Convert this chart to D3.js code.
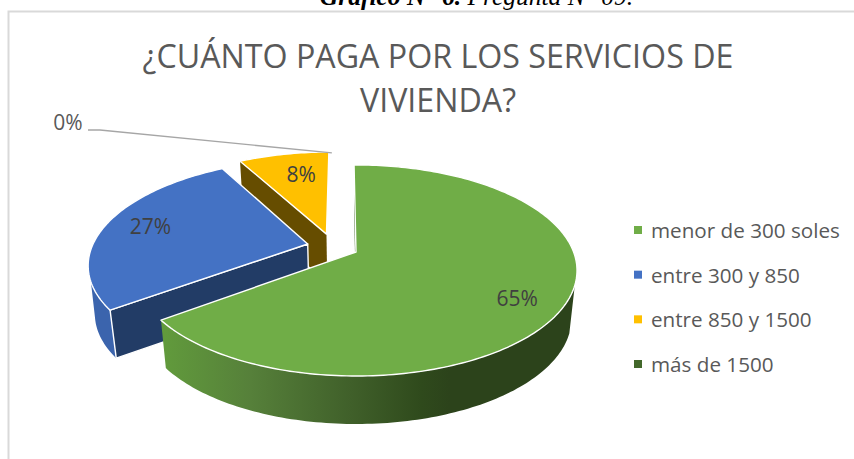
<!DOCTYPE html>
<html><head><meta charset="utf-8">
<script src="https://cdn.jsdelivr.net/npm/d3@7"></script>
<style>html,body{margin:0;padding:0;background:#fff;overflow:hidden}svg{display:block}</style>
</head><body><svg id="c" width="854" height="459"></svg>
<script>
const categories = ["menor de 300 soles","entre 300 y 850","entre 850 y 1500","más de 1500"];
const values = [65,27,8,0];
const labels = ["65%","27%","8%","0%"];
const colors = ["#70ad47","#4472c4","#ffc000","#43682b"];
const titleLines = ["¿CUÁNTO PAGA POR LOS SERVICIOS DE","VIVIENDA?"];

(function(){
const svg = d3.select("#c");
const W=854,H=459;
const C={x:356,y:252}, P=0.175, A=102.3, B=217.6, DEPTH=48, SHR=0.975;
function proj(u,v,low){
  const d=1-P*v; let x=B*u/d, y=A*v/d;
  if(low){x*=SHR; y=y+DEPTH;}
  return [C.x+x,C.y+y];
}
const explode=[[0,0],[-0.225,-0.079],[-0.14,-0.18],[0,0]];
const pieStart=-0.6*Math.PI/180;
const arcs=d3.pie().sort(null).startAngle(pieStart).endAngle(pieStart+2*Math.PI)(values);
const line=d3.line();
function rim(i,a0,a1,low){
  const n=Math.max(2,Math.ceil(Math.abs(a1-a0)/0.02)), e=explode[i];
  return d3.range(n+1).map(k=>{const a=a0+(a1-a0)*k/n;return proj(e[0]+Math.sin(a),e[1]-Math.cos(a),low);});
}
const apex=(i,low)=>proj(explode[i][0],explode[i][1],low);

const defs=svg.append("defs");
const g1=defs.append("linearGradient").attr("id","gw").attr("gradientUnits","userSpaceOnUse")
  .attr("x1",165).attr("x2",450).attr("y1",0).attr("y2",0);
[[0,"#619a3c"],[0.3,"#56803a"],[0.65,"#40602a"],[0.9,"#2f4a1c"],[1,"#2c431b"]].forEach(s=>g1.append("stop").attr("offset",s[0]).attr("stop-color",s[1]));

svg.append("path").attr("d",line([[8.5,H+5],[8.5,11.5],[W+5,11.5]])).attr("fill","none").attr("stroke","#d9d9d9").attr("stroke-width",2);

const cap=svg.append("text").attr("x",476.5).attr("y",5).attr("text-anchor","middle")
  .attr("font-family","Liberation Serif").attr("font-size",25.5).attr("font-style","italic").attr("fill","#000");
cap.append("tspan").attr("font-weight","bold").text("Gráfico N° 6. ");
cap.append("tspan").text("Pregunta N° 09.");

svg.selectAll("text.t").data(titleLines).join("text").attr("class","t")
  .attr("x",438).attr("y",(d,i)=>68+i*44).attr("text-anchor","middle")
  .attr("font-family","Open Sans").attr("font-size",32.2).attr("fill","#595959").text(d=>d);

function face(pts,fill,stroke){
  const p=svg.append("path").attr("d",line(pts)+"Z").attr("fill",fill);
  if(stroke){p.attr("stroke","#fff").attr("stroke-width",1.4).attr("stroke-linejoin","round");}
  return p;
}
function topFace(i){
  const a=arcs[i];
  return [apex(i)].concat(rim(i,a.startAngle,a.endAngle));
}
function radialWall(i,ang){
  const ap=apex(i),apl=apex(i,true);
  const o=rim(i,ang,ang)[0],ol=rim(i,ang,ang,true)[0];
  return [ap,o,ol,apl];
}
function outerWall(i,a0,a1,a1low){
  return rim(i,a0,a1).concat(rim(i,a0,a1low===undefined?a1:a1low,true).reverse());
}
const deg=Math.PI/180;
face(radialWall(2,arcs[2].startAngle),"#664d00");
face(topFace(2),colors[2],true);
face(outerWall(1,arcs[1].startAngle,249*deg,256*deg),"#3b64ad");
face(radialWall(1,arcs[1].startAngle),"#223c66",true);
face(topFace(1),colors[1],true);
face(radialWall(0,arcs[0].startAngle),"#3d5f27");
face(outerWall(0,108*deg,arcs[0].endAngle),"url(#gw)");
face(topFace(0),colors[0],true);

const labelNudge=[[17,13],[-15,-3],[6,-1]];
arcs.slice(0,3).forEach((a,i)=>{
  const m=(a.startAngle+a.endAngle)/2,e=explode[i];
  const p=proj(e[0]+0.7*Math.sin(m),e[1]-0.7*Math.cos(m));
  svg.append("text").attr("x",p[0]+labelNudge[i][0]).attr("y",p[1]+labelNudge[i][1]+7)
    .attr("text-anchor","middle").attr("font-family","Open Sans").attr("font-size",21).attr("fill","#404040").text(labels[i]);
});
const zero=rim(2,arcs[3].startAngle,arcs[3].startAngle)[0];
svg.append("path").attr("d",line([[88,130],[100,130],[zero[0]+3,zero[1]+1]])).attr("fill","none").attr("stroke","#a6a6a6").attr("stroke-width",1.3);
svg.append("text").attr("x",68).attr("y",130).attr("text-anchor","middle").attr("font-family","Open Sans").attr("font-size",21).attr("fill","#595959").text(labels[3]);

const ly=d3.scalePoint().domain(categories).range([230,364]);
const lg=svg.selectAll("g.l").data(categories).join("g").attr("class","l").attr("transform",d=>`translate(634,${ly(d)})`);
lg.append("rect").attr("y",-4).attr("width",8).attr("height",8).attr("fill",(d,i)=>colors[i]);
lg.append("text").attr("x",17).attr("y",8).attr("font-family","Open Sans").attr("font-size",20.65).attr("fill","#595959").text(d=>d);
})();
</script></body></html>
